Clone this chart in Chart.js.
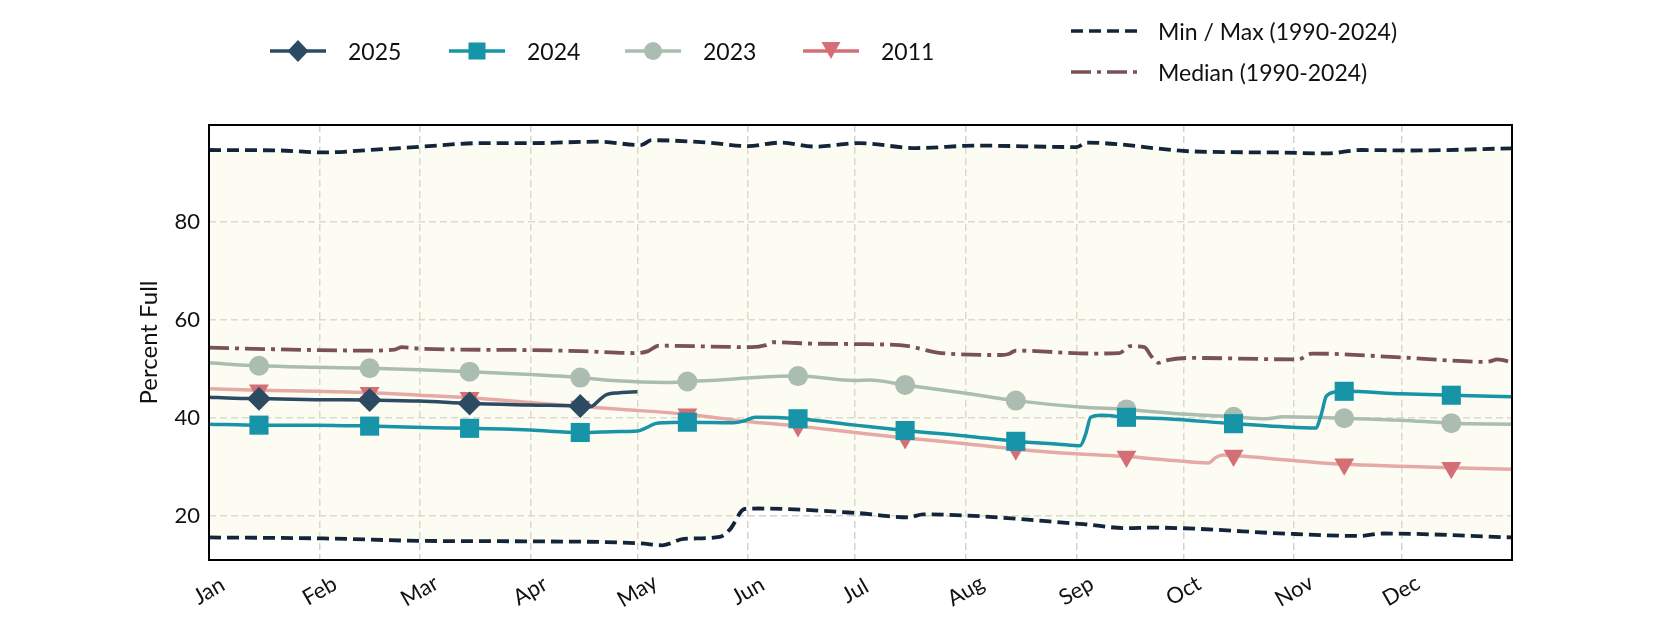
<!DOCTYPE html>
<html>
<head>
<meta charset="utf-8">
<script src="https://cdn.jsdelivr.net/npm/chart.js@4.4.1/dist/chart.umd.min.js"></script>
<style>
    html, body { margin: 0; padding: 0; background: #fff; }
    #wrap { position: relative; width: 1680px; height: 630px; font-family: Lato, sans-serif; }
    #wrap canvas { position: absolute; left: 0; top: 0; }
    .leg { position: absolute; display: flex; align-items: center; font-size: 23px; color: #111; white-space: nowrap; }
    .leg svg { display: block; margin-right: 22px; }
</style>
</head>
<body>
<div id="wrap">
    <canvas id="chart" width="1680" height="630"></canvas>

    <div class="leg" style="left:270px; top:37px;">
        <svg width="56" height="26"><line x1="0" y1="13" x2="56" y2="13" stroke="#2c4a61" stroke-width="3.5"/><polygon points="28,2 38.5,13 28,24 17.5,13" fill="#2c4a61"/></svg>2025
    </div>
    <div class="leg" style="left:449px; top:37px;">
        <svg width="56" height="26"><line x1="0" y1="13" x2="56" y2="13" stroke="#1794a7" stroke-width="3.5"/><rect x="19.5" y="4.5" width="17" height="17" fill="#1794a7"/></svg>2024
    </div>
    <div class="leg" style="left:625px; top:37px;">
        <svg width="56" height="26"><line x1="0" y1="13" x2="56" y2="13" stroke="#abbdb1" stroke-width="3.5"/><circle cx="28" cy="13" r="9" fill="#abbdb1"/></svg>2023
    </div>
    <div class="leg" style="left:803px; top:37px;">
        <svg width="56" height="26"><line x1="0" y1="13" x2="56" y2="13" stroke="#d46f76" stroke-width="3.5"/><polygon points="18.5,4 37.5,4 28,21" fill="#d46f76"/></svg>2011
    </div>
    <div class="leg" style="left:1071px; top:17px;">
        <svg width="66" height="26" style="margin-right:21px"><line x1="0" y1="13" x2="66" y2="13" stroke="#14253a" stroke-width="3.5" stroke-dasharray="12 6"/></svg>Min / Max (1990-2024)
    </div>
    <div class="leg" style="left:1071px; top:58px;">
        <svg width="66" height="26" style="margin-right:21px"><line x1="0" y1="13" x2="66" y2="13" stroke="#7b5158" stroke-width="3.5" stroke-dasharray="20 6 4 6"/></svg>Median (1990-2024)
    </div>
</div>

<script>
// x values are day of year (0 = Jan 1)
const monthLabels = ['Jan', 'Feb', 'Mar', 'Apr', 'May', 'Jun', 'Jul', 'Aug', 'Sep', 'Oct', 'Nov', 'Dec'];
const monthDays = [0, 31, 59, 90, 120, 151, 181, 212, 243, 273, 304, 334];
const markerDays = [14, 45, 73, 104, 134, 165, 195, 226, 257, 287, 318, 348];
const yTicks = [20, 40, 60, 80];

const days2025 = [0, 7, 14, 30, 45, 59, 73, 90, 104, 107, 109, 111, 115, 120];
const pct2025 = [44.2, 44.0, 43.9, 43.7, 43.6, 43.4, 42.9, 42.6, 42.4, 42.3, 43.4, 44.6, 45.1, 45.3];

const days2024 = [0, 14, 30, 45, 60, 73, 90, 104, 115, 120, 122, 125, 128, 134, 147, 150, 153, 165, 181, 195, 212, 226, 238, 244, 245.5, 247, 250, 257, 268, 287, 300, 310, 311.5, 313, 316, 318, 334, 348, 365];
const pct2024 = [38.7, 38.5, 38.5, 38.3, 38.0, 37.85, 37.5, 37.0, 37.2, 37.3, 37.8, 38.8, 39.0, 39.1, 39.0, 39.4, 40.1, 39.8, 38.5, 37.4, 36.3, 35.2, 34.6, 34.3, 36.5, 40.1, 40.5, 40.1, 39.8, 38.8, 38.2, 37.9, 40.5, 44.4, 45.3, 45.4, 44.9, 44.6, 44.3];

const days2023 = [0, 14, 30, 45, 59, 73, 90, 104, 113, 128, 134, 143, 153, 165, 181, 185, 195, 212, 226, 244, 257, 274, 287, 296, 301, 318, 334, 348, 365];
const pct2023 = [51.2, 50.6, 50.3, 50.1, 49.8, 49.4, 48.8, 48.2, 47.6, 47.2, 47.4, 47.7, 48.2, 48.5, 47.6, 47.7, 46.7, 45.0, 43.5, 42.2, 41.7, 40.7, 40.2, 39.8, 40.2, 39.9, 39.5, 38.9, 38.7];

const days2011 = [0, 14, 30, 45, 59, 73, 90, 104, 116, 134, 150, 165, 181, 195, 212, 226, 244, 257, 270, 280, 282, 284, 287, 305, 318, 334, 348, 365];
const pct2011 = [45.9, 45.6, 45.4, 45.1, 44.6, 44.1, 43.1, 42.3, 41.7, 40.7, 39.3, 38.3, 37.0, 35.9, 34.7, 33.6, 32.6, 32.1, 31.3, 30.8, 31.9, 32.4, 32.3, 31.2, 30.5, 30.1, 29.8, 29.5];

const daysMedian = [0, 30, 45, 52, 54, 59, 90, 104, 120, 123, 126, 152, 156, 158, 170, 184, 196, 204, 222, 224, 226, 247, 255, 258, 262, 264, 266, 268, 275, 305, 309, 334, 358, 361, 365];
const pctMedian = [54.3, 53.8, 53.7, 53.9, 54.4, 54.1, 53.8, 53.6, 53.2, 53.6, 54.7, 54.4, 54.8, 55.4, 55.1, 55.0, 54.6, 53.3, 52.8, 53.0, 53.7, 53.1, 53.2, 54.6, 54.4, 52.5, 51.2, 51.7, 52.2, 51.9, 53.1, 52.3, 51.4, 51.9, 51.3];

const daysMax = [0, 20, 32, 45, 60, 76, 90, 109, 121, 124, 140, 151, 160, 170, 182, 198, 215, 243, 246, 276, 299, 313, 323, 337, 365];
const pctMax = [94.6, 94.5, 94.1, 94.6, 95.3, 96.0, 96.0, 96.3, 95.6, 96.6, 96.1, 95.4, 96.1, 95.3, 96.0, 95.0, 95.5, 95.2, 96.1, 94.3, 94.1, 93.9, 94.6, 94.5, 94.95];

const daysMin = [0, 32, 60, 90, 121, 127, 133, 143, 146, 150, 154, 182, 196, 200, 245, 257, 264, 304, 322, 329, 365];
const pctMin = [15.6, 15.4, 14.9, 14.8, 14.4, 14.0, 15.3, 15.7, 17.3, 21.4, 21.5, 20.55, 19.7, 20.3, 18.3, 17.5, 17.6, 16.3, 15.9, 16.4, 15.6];

const FONT = 'Lato, sans-serif';

let points = function(days, vals) {
    return days.map((d, i) => ({ x: d, y: vals[i] }));
};

let yearSeries = function(label, days, vals, lineColor, markColor, style, radius, rotation) {
    let atMarker = (ctx) => ctx.raw && markerDays.includes(ctx.raw.x);
    return {
        label: label,
        data: points(days, vals),
        borderColor: lineColor,
        backgroundColor: markColor,
        borderWidth: 3.5,
        pointStyle: style,
        pointRotation: rotation || 0,
        pointRadius: (ctx) => atMarker(ctx) ? radius : 0,
        pointBorderWidth: 0,
        pointBackgroundColor: markColor,
        pointBorderColor: markColor,
        fill: false
    };
};

// axis labels, frame
const decor = {
    id: 'decor',
    afterDraw(chart) {
        const ctx = chart.ctx;
        const a = chart.chartArea;
        const xs = chart.scales.x, ys = chart.scales.y;
        ctx.save();
        ctx.fillStyle = '#111';
        ctx.font = '22px ' + FONT;

        ctx.textAlign = 'right';
        ctx.textBaseline = 'middle';
        yTicks.forEach((v) => {
            ctx.fillText(String(v), a.left - 9, ys.getPixelForValue(v));
        });

        ctx.save();
        ctx.font = '24px ' + FONT;
        ctx.translate(149, (a.top + a.bottom) / 2);
        ctx.rotate(-Math.PI / 2);
        ctx.textAlign = 'center';
        ctx.fillText('Percent Full', 0, 0);
        ctx.restore();

        ctx.textAlign = 'center';
        monthDays.forEach((d, i) => {
            ctx.save();
            ctx.translate(xs.getPixelForValue(d), 591);
            ctx.rotate(-Math.PI / 6);
            ctx.fillText(monthLabels[i], 0, 0);
            ctx.restore();
        });

        ctx.strokeStyle = '#000';
        ctx.lineWidth = 2;
        ctx.strokeRect(a.left, a.top, a.right - a.left, a.bottom - a.top);
        ctx.restore();
    }
};

new Chart(document.getElementById('chart').getContext('2d'), {
    type: 'line',
    data: {
        datasets: [
            yearSeries('2025', days2025, pct2025, '#2c4a61', '#2c4a61', 'rectRot', 12),
            yearSeries('2024', days2024, pct2024, '#1794a7', '#1794a7', 'rect', 13.5),
            yearSeries('2023', days2023, pct2023, '#abbdb1', '#abbdb1', 'circle', 10),
            yearSeries('2011', days2011, pct2011, '#e6aaa6', '#d46f76', 'triangle', 11.5, 180),
            {
                label: 'Median (1990-2024)',
                data: points(daysMedian, pctMedian),
                borderColor: '#7b5158',
                borderWidth: 3.8,
                borderDash: [20, 6, 4, 6],
                pointRadius: 0,
                fill: false
            },
            {
                label: 'Max (1990-2024)',
                data: points(daysMax, pctMax),
                borderColor: '#14253a',
                borderWidth: 3.8,
                borderDash: [12, 6],
                pointRadius: 0,
                backgroundColor: 'rgba(243,243,210,0.26)',
                fill: { target: 6 }
            },
            {
                label: 'Min (1990-2024)',
                data: points(daysMin, pctMin),
                borderColor: '#14253a',
                borderWidth: 3.8,
                borderDash: [12, 6],
                pointRadius: 0,
                fill: false
            }
        ]
    },
    options: {
        responsive: false,
        animation: false,
        layout: { padding: { left: 209, right: 168, top: 125, bottom: 70 } },
        elements: { line: { cubicInterpolationMode: 'monotone' } },
        plugins: {
            legend: { display: false },
            tooltip: { enabled: false },
            filler: { drawTime: 'beforeDatasetsDraw' }
        },
        scales: {
            x: {
                type: 'linear',
                min: 0,
                max: 365,
                afterBuildTicks: (s) => { s.ticks = monthDays.map((v) => ({ value: v })); },
                ticks: { display: false },
                grid: { color: '#d3d3cc', lineWidth: 1.5, drawTicks: false },
                border: { display: false, dash: [7, 4] }
            },
            y: {
                type: 'linear',
                min: 11,
                max: 99.7,
                afterBuildTicks: (s) => { s.ticks = yTicks.map((v) => ({ value: v })); },
                ticks: { display: false },
                grid: { color: '#d3d3cc', lineWidth: 1.5, drawTicks: false },
                border: { display: false, dash: [7, 4] }
            }
        }
    },
    plugins: [decor]
});
</script>
</body>
</html>
